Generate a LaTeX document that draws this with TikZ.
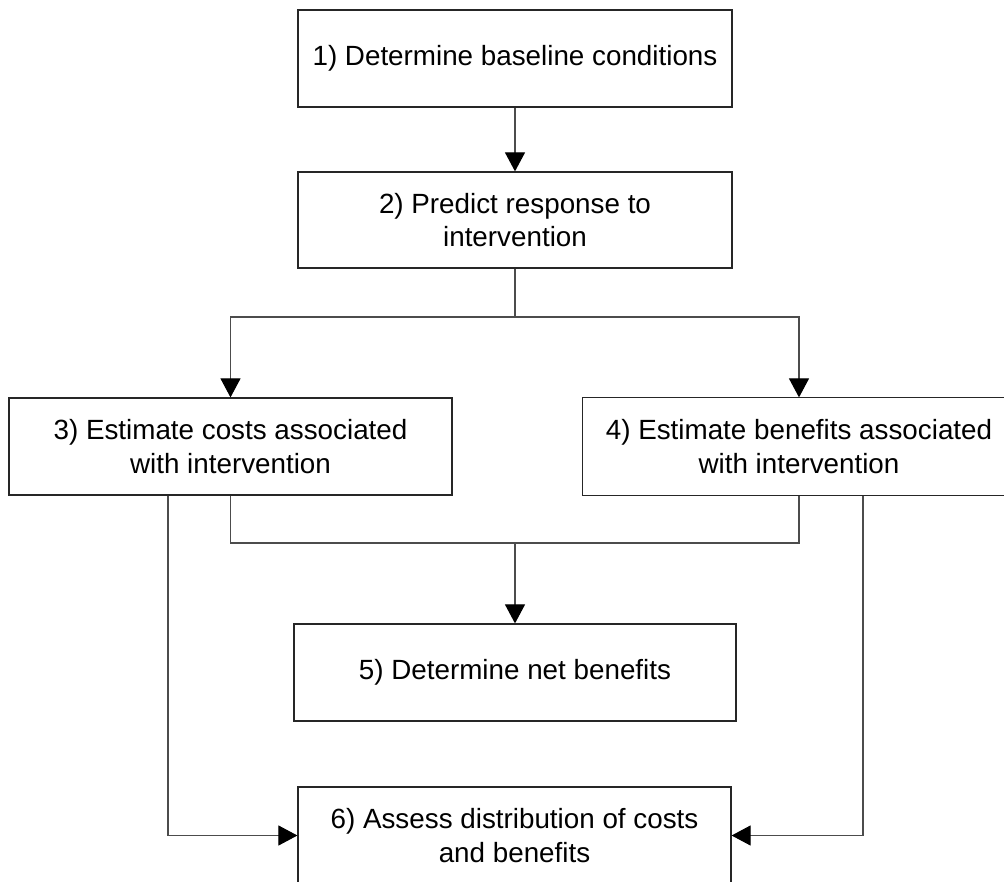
\documentclass[tikz,border=0pt]{standalone}
\usepackage{fontspec}
\setmainfont{Liberation Sans}
\usetikzlibrary{arrows.meta}
\begin{document}
\begin{tikzpicture}[x=1pt,y=-1pt,
  boxline/.style={draw=black!85,line width=1.2pt},
  stepbox/.style={boxline,fill=white,align=center,
    inner sep=0pt,font=\fontsize{27.8}{33.5}\selectfont},
  conn/.style={draw=black!70,line width=1.1pt},
  arr/.style={conn,-{Triangle[length=19pt,width=20pt,color=black]}}]
\useasboundingbox (0,0) rectangle (1004,882);
\fill[white] (0,0) rectangle (1004,882);
\node[stepbox,minimum width=434pt,minimum height=97pt] (b1) at (515,58.5) {1) Determine baseline conditions};
\node[stepbox,minimum width=434pt,minimum height=96pt] (b2) at (515,220) {2) Predict response to\\intervention};
\node[stepbox,minimum width=443pt,minimum height=97pt] (b3) at (230.5,446.5) {3) Estimate costs associated\\with intervention};
\node[stepbox,draw=none,minimum width=432pt,minimum height=97pt] (b4) at (799,446.5) {4) Estimate benefits associated\\with intervention};
\draw[boxline] ([xshift=30pt]b4.north east) -| (b4.south west) -- ([xshift=30pt]b4.south east);
\node[stepbox,minimum width=442pt,minimum height=97pt] (b5) at (515,672.5) {5) Determine net benefits};
\node[stepbox,minimum width=433pt,minimum height=97pt] (b6) at (514.5,835.5) {6) Assess distribution of costs\\and benefits};
\coordinate (j1) at (515,317);
\coordinate (j2) at (515,543);
\draw[arr] (b1.south) -- (b2.north);
\draw[conn] (b2.south) -- (j1);
\draw[arr] (j1) -| (b3.north);
\draw[arr] (j1) -| (b4.north);
\draw[conn] (b3.south) |- (j2);
\draw[conn] (b4.south) |- (j2);
\draw[arr] (j2) -- (b5.north);
\draw[arr] ([xshift=-62.5pt]b3.south) |- (b6.west);
\draw[arr] ([xshift=64pt]b4.south) |- (b6.east);
\end{tikzpicture}
\end{document}
